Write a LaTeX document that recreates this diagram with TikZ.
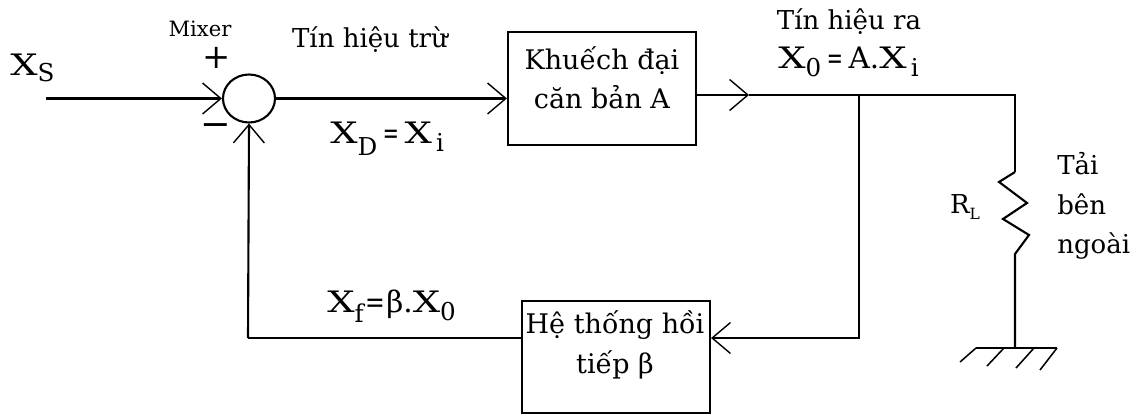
\documentclass[tikz,border=0pt]{standalone}
\usepackage{fontspec}
\setmainfont{DejaVu Serif}
\usetikzlibrary{arrows.meta, shapes.geometric}
\newcommand{\subs}[2][-0.28em]{\raisebox{#1}{\fontsize{17.5}{17.5}\selectfont #2}}
\newcommand{\wideX}{\scalebox{1.3}[1]{X}}
\newcommand{\eqs}{\hspace{4pt}\scalebox{0.65}[1]{=}\hspace{4pt}}
\tikzset{
    wire/.style={black, line width=1.5pt},
    thinwire/.style={black, line width=1.1pt},
    sig/.style={wire, -{Straight Barb[length=13pt, width=22pt, line width=1pt]}},
    blockbox/.style={draw, wire, minimum width=4.7cm, minimum height=2.82cm, inner sep=0pt},
    mixnode/.style={draw, wire, ellipse, minimum width=1.3cm, minimum height=1.2cm, inner sep=0pt},
    lbl/.style={inner sep=0pt, font=\fontsize{18.5}{28}\selectfont, align=center},
    boxlbl/.style={inner sep=0pt, font=\fontsize{19.2}{28}\selectfont, align=center},
    biglbl/.style={inner sep=0pt, font=\fontsize{21}{28}\selectfont},
}
\begin{document}
\begin{tikzpicture}[x=0.025cm, y=-0.025cm]
    \useasboundingbox (0,0) rectangle (1131,414);
    % points
    \coordinate (XS) at (46,98.5);
    \node[mixnode] (Mix) at (249,98.5) {};
    \node[blockbox] (Amp) at (602,88.5) {};
    \node[blockbox] (Fb) at (616,357) {};
    \coordinate (OutTip) at (749,95);
    \coordinate (Jn) at (859,95);
    \coordinate (Rtop) at (1015,95);
    \coordinate (R0) at (1015,172);
    \coordinate (Rbot) at (1015,254);
    \coordinate (Gnd) at (1015,348);
    \coordinate (GndL) at (976,348);
    \coordinate (GndR) at (1057,348);
    \coordinate (FbIn) at (Jn |- 0,338);
    \coordinate (FbOut) at (248,338);
    % connectors
    \draw[sig] (XS) -- (Mix.west);
    \draw[sig] (Mix.east) -- (Mix.east -| Amp.west);
    \draw[sig] (OutTip -| Amp.east) -- (OutTip);
    \draw[wire] (OutTip) -- (Rtop) -- (R0);
    \draw[wire] (R0) -- (999,182) -- (1027,203) -- (1003,219) -- (1029,235) -- (Rbot) -- (Gnd);
    \draw[wire] (GndL) -- (GndR);
    \draw[thinwire] (GndL) -- ++(-16,14);
    \draw[thinwire] (1004,348) -- ++(-17,18);
    \draw[thinwire] (1034,348) -- ++(-18,20);
    \draw[thinwire] (GndR) -- ++(-17,22);
    \draw[sig] (Jn) -- (FbIn) -- (FbIn -| Fb.east);
    \draw[wire] (FbOut -| Fb.west) -- (FbOut);
    \draw[sig] (FbOut) -- (Mix.south);
    % labels
    \node[biglbl, anchor=west] (XSlbl) at (10,68) {\wideX\subs[-0.2em]{S}};
    \node[inner sep=0pt, font=\fontsize{15}{15}\selectfont] (MixLbl) at (200,29) {Mixer};
    \node[inner sep=0pt, font=\fontsize{24}{24}\selectfont] (Plus) at (217,58) {+};
    \node[inner sep=0pt, font=\fontsize{26}{26}\selectfont] (Minus) at (216,130) {−};
    \node[lbl] (SubLbl) at (370,40) {Tín hiệu trừ};
    \node[biglbl, anchor=west] (XDlbl) at (330,139) {\wideX\subs[-0.42em]{D}\eqs\wideX\hspace{3pt}\subs{i}};
    \node[boxlbl] (AmpTxt) at (602,78) {Khuếch đại\\căn bản A};
    \node[lbl] (OutLbl) at (849,22) {Tín hiệu ra};
    \node[biglbl, anchor=west] (X0lbl) at (778,62) {\wideX\subs{0}\eqs A.\wideX\hspace{3pt}\subs{i}};
    \node[boxlbl] (FbTxt) at (615,345) {Hệ thống hồi\\tiếp β};
    \node[biglbl, anchor=west] (Xflbl) at (327,306) {\wideX\subs[-0.35em]{f}\hspace{1pt}\scalebox{0.8}[1]{=}\hspace{1pt}β.\wideX\subs{0}};
    \node[lbl] (RL) at (965,207) {R\raisebox{-0.2em}{\fontsize{11}{11}\selectfont L}};
    \node[lbl, align=left, anchor=west] (LoadLbl) at (1057,206) {Tải\\bên\\ngoài};
\end{tikzpicture}
\end{document}
